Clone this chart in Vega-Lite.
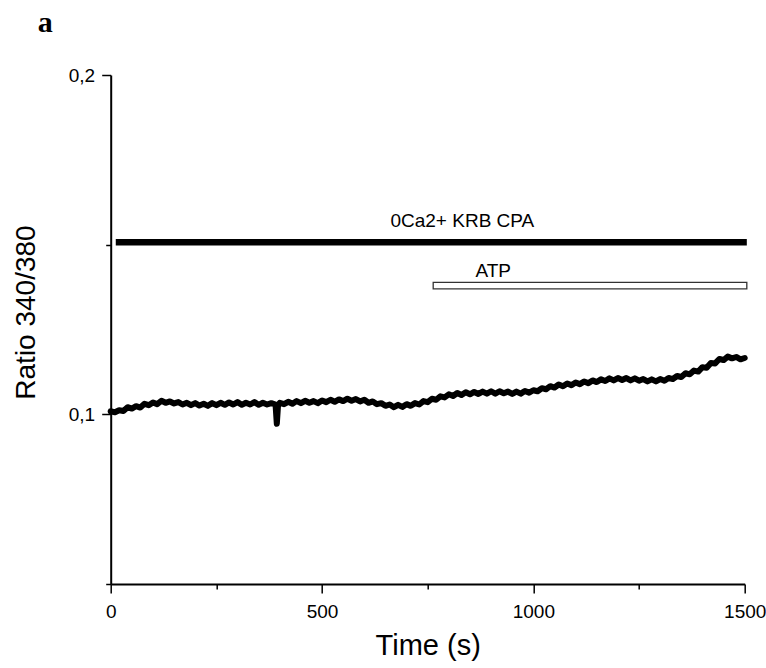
{
  "$schema": "https://vega.github.io/schema/vega-lite/v6.json",
  "width": 634,
  "height": 509,
  "autosize": "none",
  "padding": {"left": 110.7, "top": 75, "right": 21.3, "bottom": 84},
  "background": "#ffffff",
  "config": {"view": {"stroke": null}},
  "title": {"text": "a", "font": "Liberation Serif", "fontSize": 30, "fontWeight": "bold", "color": "#000000", "anchor": "start", "frame": "group", "dx": -73, "baseline": "alphabetic", "offset": 4},
  "datasets": {
    "trace": [
      {"t":0,"ratio":0.1009},{"t":10,"ratio":0.1006},{"t":20,"ratio":0.1012},{"t":30,"ratio":0.1010},{"t":40,"ratio":0.1021},{"t":50,"ratio":0.1017},{"t":60,"ratio":0.1024},{"t":70,"ratio":0.1020},{"t":80,"ratio":0.1031},{"t":90,"ratio":0.1027},
      {"t":100,"ratio":0.1035},{"t":110,"ratio":0.1030},{"t":120,"ratio":0.1040},{"t":130,"ratio":0.1034},{"t":140,"ratio":0.1038},{"t":150,"ratio":0.1032},{"t":160,"ratio":0.1036},{"t":170,"ratio":0.1029},{"t":180,"ratio":0.1034},{"t":190,"ratio":0.1027},
      {"t":200,"ratio":0.1033},{"t":210,"ratio":0.1026},{"t":220,"ratio":0.1031},{"t":230,"ratio":0.1025},{"t":240,"ratio":0.1033},{"t":250,"ratio":0.1027},{"t":260,"ratio":0.1034},{"t":270,"ratio":0.1028},{"t":280,"ratio":0.1035},{"t":290,"ratio":0.1029},
      {"t":300,"ratio":0.1036},{"t":310,"ratio":0.1028},{"t":320,"ratio":0.1034},{"t":330,"ratio":0.1029},{"t":340,"ratio":0.1036},{"t":350,"ratio":0.1028},{"t":360,"ratio":0.1034},{"t":370,"ratio":0.1029},{"t":380,"ratio":0.1033},{"t":390,"ratio":0.1029},
      {"t":393,"ratio":0.0972},{"t":396,"ratio":0.1028},
      {"t":400,"ratio":0.1034},{"t":410,"ratio":0.1030},{"t":420,"ratio":0.1037},{"t":430,"ratio":0.1031},{"t":440,"ratio":0.1039},{"t":450,"ratio":0.1033},{"t":460,"ratio":0.1040},{"t":470,"ratio":0.1034},{"t":480,"ratio":0.1039},{"t":490,"ratio":0.1033},
      {"t":500,"ratio":0.1041},{"t":510,"ratio":0.1036},{"t":520,"ratio":0.1043},{"t":530,"ratio":0.1037},{"t":540,"ratio":0.1044},{"t":550,"ratio":0.1039},{"t":560,"ratio":0.1046},{"t":570,"ratio":0.1040},{"t":580,"ratio":0.1045},{"t":590,"ratio":0.1038},
      {"t":600,"ratio":0.1043},{"t":610,"ratio":0.1034},{"t":620,"ratio":0.1038},{"t":630,"ratio":0.1030},{"t":640,"ratio":0.1033},{"t":650,"ratio":0.1025},{"t":660,"ratio":0.1029},{"t":670,"ratio":0.1021},{"t":680,"ratio":0.1028},{"t":690,"ratio":0.1022},
      {"t":700,"ratio":0.1030},{"t":710,"ratio":0.1025},{"t":720,"ratio":0.1033},{"t":730,"ratio":0.1029},{"t":740,"ratio":0.1039},{"t":750,"ratio":0.1036},{"t":760,"ratio":0.1046},{"t":770,"ratio":0.1043},{"t":780,"ratio":0.1053},{"t":790,"ratio":0.1050},
      {"t":800,"ratio":0.1059},{"t":810,"ratio":0.1054},{"t":820,"ratio":0.1063},{"t":830,"ratio":0.1057},{"t":840,"ratio":0.1065},{"t":850,"ratio":0.1059},{"t":860,"ratio":0.1066},{"t":870,"ratio":0.1060},{"t":880,"ratio":0.1067},{"t":890,"ratio":0.1061},
      {"t":900,"ratio":0.1068},{"t":910,"ratio":0.1061},{"t":920,"ratio":0.1068},{"t":930,"ratio":0.1062},{"t":940,"ratio":0.1067},{"t":950,"ratio":0.1060},{"t":960,"ratio":0.1067},{"t":970,"ratio":0.1061},{"t":980,"ratio":0.1069},{"t":990,"ratio":0.1064},
      {"t":1000,"ratio":0.1071},{"t":1010,"ratio":0.1068},{"t":1020,"ratio":0.1077},{"t":1030,"ratio":0.1074},{"t":1040,"ratio":0.1083},{"t":1050,"ratio":0.1079},{"t":1060,"ratio":0.1088},{"t":1070,"ratio":0.1083},{"t":1080,"ratio":0.1091},{"t":1090,"ratio":0.1086},
      {"t":1100,"ratio":0.1094},{"t":1110,"ratio":0.1089},{"t":1120,"ratio":0.1097},{"t":1130,"ratio":0.1092},{"t":1140,"ratio":0.1100},{"t":1150,"ratio":0.1095},{"t":1160,"ratio":0.1103},{"t":1170,"ratio":0.1098},{"t":1180,"ratio":0.1106},{"t":1190,"ratio":0.1100},
      {"t":1200,"ratio":0.1107},{"t":1210,"ratio":0.1101},{"t":1220,"ratio":0.1107},{"t":1230,"ratio":0.1100},{"t":1240,"ratio":0.1106},{"t":1250,"ratio":0.1099},{"t":1260,"ratio":0.1104},{"t":1270,"ratio":0.1097},{"t":1280,"ratio":0.1103},{"t":1290,"ratio":0.1097},
      {"t":1300,"ratio":0.1104},{"t":1310,"ratio":0.1099},{"t":1320,"ratio":0.1107},{"t":1330,"ratio":0.1104},{"t":1340,"ratio":0.1113},{"t":1350,"ratio":0.1110},{"t":1360,"ratio":0.1121},{"t":1370,"ratio":0.1118},{"t":1380,"ratio":0.1129},{"t":1390,"ratio":0.1126},
      {"t":1400,"ratio":0.1139},{"t":1410,"ratio":0.1137},{"t":1420,"ratio":0.1151},{"t":1430,"ratio":0.1150},{"t":1440,"ratio":0.1163},{"t":1450,"ratio":0.1160},{"t":1460,"ratio":0.1170},{"t":1470,"ratio":0.1165},{"t":1480,"ratio":0.1169},{"t":1490,"ratio":0.1162},
      {"t":1500,"ratio":0.1166}
    ],
    "cpa": [{"start": 12, "end": 1505, "level": 0.1507}],
    "atp": [{"start": 763, "end": 1505, "low": 0.1370, "high": 0.1389}],
    "labels": [
      {"t": 832, "ratio": 0.1552, "label": "0Ca2+ KRB CPA"},
      {"t": 905, "ratio": 0.1404, "label": "ATP"}
    ]
  },
  "layer": [
    {
      "data": {"name": "trace"},
      "mark": {"type": "line", "color": "#000000", "strokeWidth": 6, "strokeJoin": "round", "strokeCap": "round"},
      "encoding": {
        "x": {"field": "t", "type": "quantitative",
          "scale": {"domain": [0, 1500], "nice": false, "zero": false},
          "axis": {"values": [0, 250, 500, 750, 1000, 1250, 1500], "format": "d",
            "labelExpr": "datum.value % 500 === 0 ? datum.label : ''",
            "tickSize": {"condition": {"test": "datum.value % 500 === 0", "value": 9}, "value": 5},
            "tickColor": "#000000", "tickWidth": 1.5, "domainColor": "#000000", "domainWidth": 2, "grid": false,
            "labelFont": "Liberation Sans", "labelFontSize": 19, "labelColor": "#000000", "labelPadding": 9, "labelFlush": false, "labelOverlap": false,
            "title": "Time (s)", "titleFont": "Liberation Sans", "titleFontSize": 29, "titleFontWeight": "normal", "titleColor": "#000000", "titleBaseline": "alphabetic", "titleY": 70}
        },
        "y": {"field": "ratio", "type": "quantitative",
          "scale": {"domain": [0.05, 0.2], "nice": false, "zero": false},
          "axis": {"values": [0.05, 0.1, 0.15, 0.2],
            "labelExpr": "datum.value == 0.1 || datum.value == 0.2 ? replace(format(datum.value, '.1f'), '.', ',') : ''",
            "tickSize": {"condition": {"test": "datum.value == 0.1 || datum.value == 0.2", "value": 9}, "value": 5},
            "tickColor": "#000000", "tickWidth": 1.5, "domainColor": "#000000", "domainWidth": 2, "grid": false,
            "labelFont": "Liberation Sans", "labelFontSize": 19, "labelColor": "#000000", "labelPadding": 7, "labelFlush": false, "labelOverlap": false, "labelBaseline": "middle",
            "title": "Ratio 340/380", "titleFont": "Liberation Sans", "titleFontSize": 28, "titleFontWeight": "normal", "titleColor": "#000000", "titleAngle": -90, "titleAlign": "center", "titleBaseline": "alphabetic", "titleX": -76, "titleY": 237}
        }
      }
    },
    {
      "data": {"name": "cpa"},
      "mark": {"type": "rule", "color": "#000000", "strokeWidth": 6.5},
      "encoding": {
        "x": {"field": "start", "type": "quantitative"},
        "x2": {"field": "end"},
        "y": {"field": "level", "type": "quantitative"}
      }
    },
    {
      "data": {"name": "atp"},
      "mark": {"type": "rect", "fill": "#ffffff", "stroke": "#333333", "strokeWidth": 1.3},
      "encoding": {
        "x": {"field": "start", "type": "quantitative"},
        "x2": {"field": "end"},
        "y": {"field": "low", "type": "quantitative"},
        "y2": {"field": "high"}
      }
    },
    {
      "data": {"name": "labels"},
      "mark": {"type": "text", "font": "Liberation Sans", "fontSize": 19, "color": "#000000", "align": "center", "baseline": "alphabetic"},
      "encoding": {
        "x": {"field": "t", "type": "quantitative"},
        "y": {"field": "ratio", "type": "quantitative"},
        "text": {"field": "label"}
      }
    }
  ]
}
